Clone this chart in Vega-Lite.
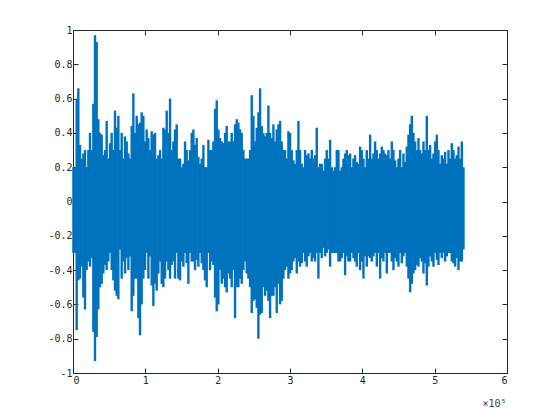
{
 "$schema": "https://vega.github.io/schema/vega-lite/v6.json",
 "width": 434,
 "height": 343,
 "autosize": {"type": "none"},
 "padding": {"left": 73, "top": 30, "right": 53, "bottom": 47},
 "background": "white",
 "config": {
  "view": {"stroke": "#262626", "strokeWidth": 1},
  "axis": {"domainColor": "#262626", "tickColor": "#262626", "labelColor": "#262626", "labelFont": "DejaVu Sans Mono", "labelFontSize": 10, "grid": false, "tickSize": -5, "titleFont": "DejaVu Sans Mono", "titleFontWeight": "normal", "titleColor": "#404040"}
 },
 "data": {"values": [
  {"x":600,"hi":0.2,"lo":-0.3},
  {"x":2766,"hi":0.2,"lo":-0.3},{"x":5071,"hi":0.6,"lo":-0.75},{"x":7376,"hi":0.66,"lo":-0.46},{"x":9681,"hi":0.33,"lo":-0.45},{"x":11986,"hi":0.25,"lo":-0.38},{"x":14291,"hi":0.28,"lo":-0.56},{"x":16596,"hi":0.3,"lo":-0.63},{"x":18901,"hi":0.2,"lo":-0.4},{"x":21206,"hi":0.3,"lo":-0.35},{"x":23511,"hi":0.4,"lo":-0.38},
  {"x":25816,"hi":0.3,"lo":-0.33},{"x":28121,"hi":0.57,"lo":-0.76},{"x":30426,"hi":0.97,"lo":-0.93},{"x":32731,"hi":0.93,"lo":-0.79},{"x":35036,"hi":0.48,"lo":-0.63},{"x":37341,"hi":0.4,"lo":-0.5},{"x":39646,"hi":0.39,"lo":-0.48},{"x":41951,"hi":0.27,"lo":-0.42},{"x":44256,"hi":0.3,"lo":-0.37},{"x":46561,"hi":0.47,"lo":-0.4},
  {"x":48866,"hi":0.25,"lo":-0.35},{"x":51171,"hi":0.34,"lo":-0.3},{"x":53476,"hi":0.4,"lo":-0.4},{"x":55781,"hi":0.3,"lo":-0.46},{"x":58086,"hi":0.53,"lo":-0.52},{"x":60391,"hi":0.43,"lo":-0.55},{"x":62696,"hi":0.5,"lo":-0.57},{"x":65001,"hi":0.3,"lo":-0.28},{"x":67306,"hi":0.4,"lo":-0.45},{"x":69611,"hi":0.25,"lo":-0.35},
  {"x":71916,"hi":0.38,"lo":-0.42},{"x":74221,"hi":0.35,"lo":-0.33},{"x":76526,"hi":0.28,"lo":-0.4},{"x":78831,"hi":0.25,"lo":-0.32},{"x":81136,"hi":0.44,"lo":-0.64},{"x":83441,"hi":0.63,"lo":-0.55},{"x":85746,"hi":0.4,"lo":-0.45},{"x":88051,"hi":0.5,"lo":-0.45},{"x":90356,"hi":0.45,"lo":-0.68},{"x":92661,"hi":0.46,"lo":-0.78},
  {"x":94966,"hi":0.52,"lo":-0.6},{"x":97271,"hi":0.5,"lo":-0.45},{"x":99576,"hi":0.35,"lo":-0.4},{"x":101881,"hi":0.42,"lo":-0.3},{"x":104186,"hi":0.37,"lo":-0.45},{"x":106491,"hi":0.3,"lo":-0.32},{"x":108796,"hi":0.41,"lo":-0.49},{"x":111101,"hi":0.39,"lo":-0.61},{"x":113406,"hi":0.4,"lo":-0.48},{"x":115711,"hi":0.25,"lo":-0.52},
  {"x":118016,"hi":0.27,"lo":-0.42},{"x":120321,"hi":0.3,"lo":-0.35},{"x":122626,"hi":0.25,"lo":-0.48},{"x":124931,"hi":0.43,"lo":-0.5},{"x":127236,"hi":0.42,"lo":-0.45},{"x":129541,"hi":0.53,"lo":-0.35},{"x":131846,"hi":0.4,"lo":-0.4},{"x":134151,"hi":0.6,"lo":-0.45},{"x":136456,"hi":0.3,"lo":-0.37},{"x":138761,"hi":0.35,"lo":-0.35},
  {"x":141066,"hi":0.42,"lo":-0.45},{"x":143371,"hi":0.45,"lo":-0.3},{"x":145676,"hi":0.25,"lo":-0.45},{"x":147981,"hi":0.25,"lo":-0.46},{"x":150286,"hi":0.2,"lo":-0.35},{"x":152591,"hi":0.22,"lo":-0.38},{"x":154896,"hi":0.35,"lo":-0.3},{"x":157201,"hi":0.3,"lo":-0.36},{"x":159506,"hi":0.24,"lo":-0.48},{"x":161811,"hi":0.3,"lo":-0.3},
  {"x":164116,"hi":0.4,"lo":-0.35},{"x":166421,"hi":0.42,"lo":-0.35},{"x":168726,"hi":0.33,"lo":-0.4},{"x":171031,"hi":0.37,"lo":-0.34},{"x":173336,"hi":0.26,"lo":-0.38},{"x":175641,"hi":0.22,"lo":-0.3},{"x":177946,"hi":0.25,"lo":-0.36},{"x":180251,"hi":0.33,"lo":-0.4},{"x":182556,"hi":0.2,"lo":-0.46},{"x":184861,"hi":0.2,"lo":-0.5},
  {"x":187166,"hi":0.36,"lo":-0.3},{"x":189471,"hi":0.3,"lo":-0.4},{"x":191776,"hi":0.3,"lo":-0.35},{"x":194081,"hi":0.35,"lo":-0.37},{"x":196386,"hi":0.54,"lo":-0.56},{"x":198691,"hi":0.59,"lo":-0.64},{"x":200996,"hi":0.42,"lo":-0.6},{"x":203301,"hi":0.37,"lo":-0.4},{"x":205606,"hi":0.35,"lo":-0.48},{"x":207911,"hi":0.34,"lo":-0.45},
  {"x":210216,"hi":0.4,"lo":-0.5},{"x":212521,"hi":0.44,"lo":-0.53},{"x":214826,"hi":0.35,"lo":-0.42},{"x":217131,"hi":0.35,"lo":-0.45},{"x":219436,"hi":0.4,"lo":-0.5},{"x":221741,"hi":0.35,"lo":-0.4},{"x":224046,"hi":0.45,"lo":-0.68},{"x":226351,"hi":0.48,"lo":-0.5},{"x":228656,"hi":0.46,"lo":-0.5},{"x":230961,"hi":0.42,"lo":-0.45},
  {"x":233266,"hi":0.4,"lo":-0.48},{"x":235571,"hi":0.3,"lo":-0.4},{"x":237876,"hi":0.25,"lo":-0.35},{"x":240181,"hi":0.25,"lo":-0.42},{"x":242486,"hi":0.25,"lo":-0.45},{"x":244791,"hi":0.3,"lo":-0.5},{"x":247096,"hi":0.62,"lo":-0.65},{"x":249401,"hi":0.5,"lo":-0.58},{"x":251706,"hi":0.35,"lo":-0.57},{"x":254011,"hi":0.43,"lo":-0.62},
  {"x":256316,"hi":0.52,"lo":-0.8},{"x":258621,"hi":0.66,"lo":-0.66},{"x":260926,"hi":0.44,"lo":-0.65},{"x":263231,"hi":0.4,"lo":-0.5},{"x":265536,"hi":0.38,"lo":-0.55},{"x":267841,"hi":0.4,"lo":-0.52},{"x":270146,"hi":0.56,"lo":-0.58},{"x":272451,"hi":0.4,"lo":-0.68},{"x":274756,"hi":0.37,"lo":-0.55},{"x":277061,"hi":0.45,"lo":-0.55},
  {"x":279366,"hi":0.35,"lo":-0.5},{"x":281671,"hi":0.42,"lo":-0.65},{"x":283976,"hi":0.45,"lo":-0.48},{"x":286281,"hi":0.47,"lo":-0.6},{"x":288586,"hi":0.35,"lo":-0.58},{"x":290891,"hi":0.3,"lo":-0.45},{"x":293196,"hi":0.3,"lo":-0.4},{"x":295501,"hi":0.25,"lo":-0.38},{"x":297806,"hi":0.41,"lo":-0.45},{"x":300111,"hi":0.4,"lo":-0.42},
  {"x":302416,"hi":0.3,"lo":-0.4},{"x":304721,"hi":0.24,"lo":-0.35},{"x":307026,"hi":0.22,"lo":-0.33},{"x":309331,"hi":0.3,"lo":-0.42},{"x":311636,"hi":0.47,"lo":-0.35},{"x":313941,"hi":0.3,"lo":-0.38},{"x":316246,"hi":0.22,"lo":-0.36},{"x":318551,"hi":0.2,"lo":-0.3},{"x":320856,"hi":0.3,"lo":-0.35},{"x":323161,"hi":0.27,"lo":-0.38},
  {"x":325466,"hi":0.28,"lo":-0.32},{"x":327771,"hi":0.25,"lo":-0.3},{"x":330076,"hi":0.3,"lo":-0.35},{"x":332381,"hi":0.25,"lo":-0.33},{"x":334686,"hi":0.27,"lo":-0.35},{"x":336991,"hi":0.43,"lo":-0.3},{"x":339296,"hi":0.2,"lo":-0.45},{"x":341601,"hi":0.22,"lo":-0.3},{"x":343906,"hi":0.22,"lo":-0.33},{"x":346211,"hi":0.18,"lo":-0.27},
  {"x":348516,"hi":0.25,"lo":-0.32},{"x":350821,"hi":0.3,"lo":-0.3},{"x":353126,"hi":0.25,"lo":-0.28},{"x":355431,"hi":0.36,"lo":-0.38},{"x":357736,"hi":0.2,"lo":-0.3},{"x":360041,"hi":0.18,"lo":-0.3},{"x":362346,"hi":0.2,"lo":-0.3},{"x":364651,"hi":0.3,"lo":-0.3},{"x":366956,"hi":0.3,"lo":-0.35},{"x":369261,"hi":0.18,"lo":-0.35},
  {"x":371566,"hi":0.2,"lo":-0.33},{"x":373871,"hi":0.25,"lo":-0.3},{"x":376176,"hi":0.28,"lo":-0.43},{"x":378481,"hi":0.3,"lo":-0.32},{"x":380786,"hi":0.27,"lo":-0.35},
  {"x":383091,"hi":0.28,"lo":-0.35},{"x":385396,"hi":0.2,"lo":-0.3},{"x":387701,"hi":0.25,"lo":-0.33},{"x":390006,"hi":0.27,"lo":-0.35},{"x":392311,"hi":0.23,"lo":-0.38},{"x":394616,"hi":0.22,"lo":-0.3},{"x":396921,"hi":0.32,"lo":-0.4},{"x":399226,"hi":0.3,"lo":-0.35},{"x":401531,"hi":0.25,"lo":-0.45},{"x":403836,"hi":0.2,"lo":-0.32},
  {"x":406141,"hi":0.3,"lo":-0.38},{"x":408446,"hi":0.25,"lo":-0.32},{"x":410751,"hi":0.39,"lo":-0.33},{"x":413056,"hi":0.25,"lo":-0.35},{"x":415361,"hi":0.28,"lo":-0.32},{"x":417666,"hi":0.35,"lo":-0.3},{"x":419971,"hi":0.3,"lo":-0.38},{"x":422276,"hi":0.25,"lo":-0.3},{"x":424581,"hi":0.28,"lo":-0.45},{"x":426886,"hi":0.32,"lo":-0.33},
  {"x":429191,"hi":0.3,"lo":-0.35},{"x":431496,"hi":0.28,"lo":-0.3},{"x":433801,"hi":0.27,"lo":-0.42},{"x":436106,"hi":0.3,"lo":-0.3},{"x":438411,"hi":0.25,"lo":-0.3},{"x":440716,"hi":0.35,"lo":-0.35},{"x":443021,"hi":0.3,"lo":-0.4},{"x":445326,"hi":0.24,"lo":-0.33},{"x":447631,"hi":0.2,"lo":-0.35},{"x":449936,"hi":0.25,"lo":-0.38},
  {"x":452241,"hi":0.3,"lo":-0.3},{"x":454546,"hi":0.2,"lo":-0.36},{"x":456851,"hi":0.28,"lo":-0.32},{"x":459156,"hi":0.23,"lo":-0.3},{"x":461461,"hi":0.32,"lo":-0.38},{"x":463766,"hi":0.39,"lo":-0.45},{"x":466071,"hi":0.45,"lo":-0.53},{"x":468376,"hi":0.5,"lo":-0.48},{"x":470681,"hi":0.4,"lo":-0.42},{"x":472986,"hi":0.35,"lo":-0.4},
  {"x":475291,"hi":0.3,"lo":-0.37},{"x":477596,"hi":0.37,"lo":-0.38},{"x":479901,"hi":0.3,"lo":-0.33},{"x":482206,"hi":0.28,"lo":-0.35},{"x":484511,"hi":0.35,"lo":-0.42},{"x":486816,"hi":0.3,"lo":-0.36},{"x":489121,"hi":0.5,"lo":-0.49},{"x":491426,"hi":0.3,"lo":-0.38},{"x":493731,"hi":0.33,"lo":-0.32},{"x":496036,"hi":0.25,"lo":-0.35},
  {"x":498341,"hi":0.28,"lo":-0.38},{"x":500646,"hi":0.35,"lo":-0.3},{"x":502951,"hi":0.39,"lo":-0.34},{"x":505256,"hi":0.3,"lo":-0.37},{"x":507561,"hi":0.22,"lo":-0.3},{"x":509866,"hi":0.27,"lo":-0.33},{"x":512171,"hi":0.25,"lo":-0.3},{"x":514476,"hi":0.29,"lo":-0.35},{"x":516781,"hi":0.22,"lo":-0.32},{"x":519086,"hi":0.3,"lo":-0.3},
  {"x":521391,"hi":0.25,"lo":-0.3},{"x":523696,"hi":0.34,"lo":-0.35},{"x":526001,"hi":0.3,"lo":-0.36},{"x":528306,"hi":0.25,"lo":-0.38},{"x":530611,"hi":0.27,"lo":-0.33},{"x":532916,"hi":0.32,"lo":-0.4},{"x":535221,"hi":0.25,"lo":-0.35},{"x":537526,"hi":0.35,"lo":-0.35},{"x":539831,"hi":0.2,"lo":-0.28}
 ]},
 "layer": [
  {
   "mark": {"type": "rule", "color": "#0072BD", "strokeWidth": 2.4},
   "encoding": {
    "x": {"field": "x", "type": "quantitative", "scale": {"domain": [0, 600000], "nice": false, "zero": false},
          "axis": {"orient": "bottom", "values": [0,100000,200000,300000,400000,500000,600000], "labelExpr": "'' + datum.value/100000", "labelPadding": 7, "title": "×10⁵", "titleAnchor": "end", "titleAlign": "right", "titleFontSize": 10, "titleX": 433, "titleY": 33, "titleBaseline": "alphabetic"}},
    "y": {"field": "lo", "type": "quantitative", "scale": {"domain": [-1, 1], "nice": false, "zero": false},
          "axis": {"orient": "left", "values": [-1,-0.8,-0.6,-0.4,-0.2,0,0.2,0.4,0.6,0.8,1], "labelExpr": "'' + datum.value", "labelPadding": 6, "title": null}},
    "y2": {"field": "hi"}
   }
  },
  {
   "mark": {"type": "rule", "opacity": 0},
   "encoding": {
    "x": {"field": "x", "type": "quantitative", "scale": {"domain": [0, 600000], "nice": false, "zero": false},
          "axis": {"orient": "top", "values": [0,100000,200000,300000,400000,500000,600000], "labels": false, "title": null}},
    "y": {"field": "lo", "type": "quantitative", "scale": {"domain": [-1, 1], "nice": false, "zero": false},
          "axis": {"orient": "right", "values": [-1,-0.8,-0.6,-0.4,-0.2,0,0.2,0.4,0.6,0.8,1], "labels": false, "title": null}},
    "y2": {"field": "hi"}
   }
  }
 ],
 "resolve": {"axis": {"x": "independent", "y": "independent"}}
}
